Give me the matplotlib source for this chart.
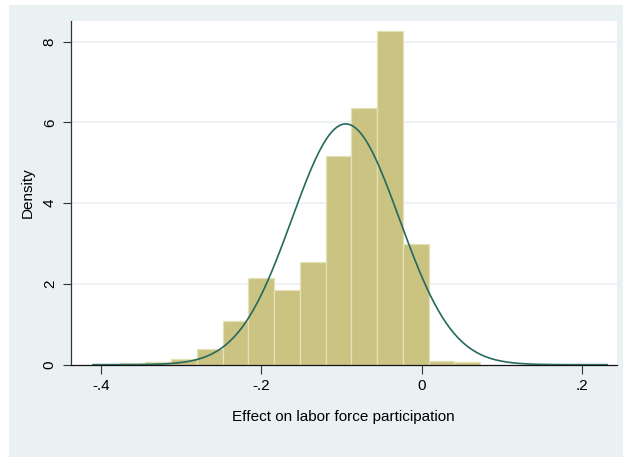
import numpy as np
import matplotlib
matplotlib.use("Agg")
import matplotlib.pyplot as plt
from matplotlib.patches import Rectangle

# Data
bin_start = -0.409
bin_width = 0.0321
densities = [0.01, 0.03, 0.074, 0.148, 0.40, 1.08, 2.15, 1.86, 2.54,
             5.175, 6.35, 8.27, 3.00, 0.10, 0.066]
normal_mean = -0.095
normal_sd = 0.0669
curve_range = [-0.41, 0.231]
xticks = [-0.4, -0.2, 0.0, 0.2]
xtick_labels = ["-.4", "-.2", "0", ".2"]
yticks = [0, 2, 4, 6, 8]
ytick_labels = ["0", "2", "4", "6", "8"]
xlabel = "Effect on labor force participation"
ylabel = "Density"

W, H = 623, 458
plt.rcParams['font.family'] = ['Liberation Sans', 'DejaVu Sans']
fig = plt.figure(figsize=(W / 100, H / 100), dpi=100, facecolor="white")

bg = "#eaf1f3"
fig.add_artist(Rectangle((9 / W, 1 - 457 / H), (W - 9) / W, (457 - 5) / H,
                         transform=fig.transFigure, facecolor=bg,
                         edgecolor="none", zorder=-10))

ax = fig.add_axes([70.7 / W, 1 - 364.7 / H, (616.7 - 70.7) / W, (364.7 - 20.7) / H])
ax.set_zorder(1)
ax.set_facecolor("white")

edges = bin_start + bin_width * np.arange(len(densities) + 1)
ax.bar(edges[:-1], densities, width=bin_width, align="edge",
       color="#cbc382", edgecolor="#e6e2b8", linewidth=0.9, zorder=2)

xs = np.linspace(curve_range[0], curve_range[1], 400)
ys = np.exp(-0.5 * ((xs - normal_mean) / normal_sd) ** 2) / (normal_sd * np.sqrt(2 * np.pi))
ax.plot(xs, ys, color="#25695f", linewidth=1.2, zorder=3)

ax.set_xlim(-0.4378, 0.2429)
ax.set_ylim(0, 8.52)

for y in yticks[1:]:
    ax.axhline(y, color="#eaf1f3", linewidth=1.2, zorder=1)

ax.set_xticks(xticks)
ax.set_xticklabels(xtick_labels, fontsize=11)
ax.set_yticks(yticks)
ax.set_yticklabels(ytick_labels, fontsize=11, rotation=90, va="center")

for s in ["top", "right"]:
    ax.spines[s].set_visible(False)
ax.spines["left"].set_color("#333333")
ax.spines["bottom"].set_color("#111111")
ax.spines["left"].set_linewidth(0.9)
ax.spines["bottom"].set_linewidth(0.9)
ax.tick_params(axis="x", length=6.5, width=0.8, color="#333333", pad=4)
ax.tick_params(axis="y", length=6, width=0.8, color="#333333", pad=4)

ax.set_xlabel(xlabel, fontsize=11, labelpad=12)
ax.set_ylabel(ylabel, fontsize=11, labelpad=6)

fig.savefig("out.png", dpi=100, facecolor="white")
